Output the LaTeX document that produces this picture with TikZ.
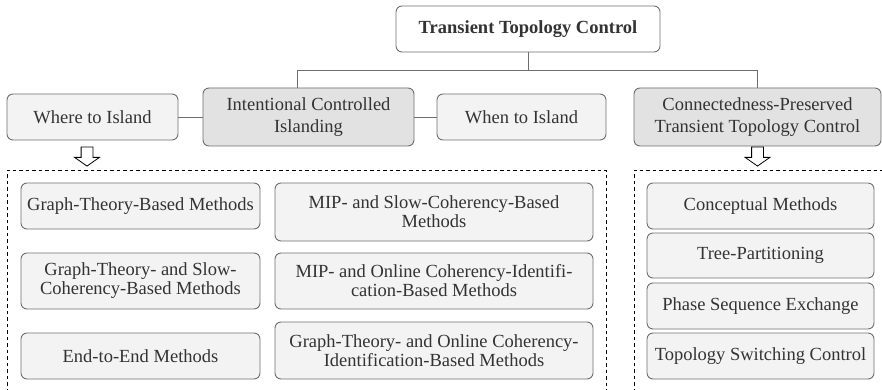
\documentclass[tikz,border=0pt]{standalone}
\usepackage{fontspec}
\setmainfont{Liberation Serif}
\usepackage{tikz}
\usetikzlibrary{positioning}
\usetikzlibrary{shapes.arrows}
\usetikzlibrary{calc}

\definecolor{edgegray}{HTML}{6E6E6E}
\definecolor{textgray}{HTML}{333333}
\definecolor{lightfill}{HTML}{F3F3F3}
\definecolor{darkfill}{HTML}{E2E2E2}

\begin{document}
\begin{tikzpicture}[x=1pt, y=-1pt,
	every node/.style = {font=\fontsize{18.5}{19}\selectfont, text=textgray, align=center},
	box/.style = {draw=edgegray, line width=0.9pt, rounded corners=6pt, fill=lightfill, inner sep=0pt},
	catbox/.style = {box, fill=darkfill, font=\fontsize{18.5}{22}\selectfont},
	link/.style = {draw=edgegray, line width=0.9pt},
	region/.style = {draw=black, line width=0.8pt, dash pattern=on 3.5pt off 3pt},
	downarrow/.style = {draw=black, line width=0.8pt, fill=white, shape=single arrow, rotate=-90,
		minimum height=19pt, inner sep=5.5pt, single arrow head extend=6.5pt,
		single arrow tip angle=110}]
\useasboundingbox (0,0) rectangle (882,390);

% top level
\node[box, fill=white, minimum width=264pt, minimum height=46pt, font=\bfseries\fontsize{18.5}{19}\selectfont]
	(root) at (528,29) {Transient Topology Control};

\node[catbox, minimum width=211pt, minimum height=58pt] (ici) at (308.5,117) {Intentional Controlled\\Islanding};
\node[box, minimum width=171pt, minimum height=46pt] (where) at (92.5,117) {Where to Island};
\node[box, minimum width=169pt, minimum height=46pt] (when) at (521.5,117) {When to Island};
\node[catbox, minimum width=247pt, minimum height=58pt] (cptc) at (757.5,117) {Connectedness-Preserved\\Transient Topology Control};

\coordinate (busL) at (297,70);
\coordinate (busR) at (757,70);
\draw[link] (root.south) -- (root.south |- busL);
\draw[link] (ici.north -| busL) -- (busL) -- (busR) -- (cptc.north -| busR);
\draw[link] (where) -- (ici);
\draw[link] (ici) -- (when);

% hollow arrows
\node[downarrow] (arrL) at (87,154.5) {};
\node[downarrow] (arrR) at (757.5,154.5) {};

% dashed regions (open at the bottom)
\draw[region] (7,392) -- (7,170) -- (606,170) -- (606,392);
\draw[region] (634,392) -- (634,170) -- (884,170);

% islanding methods
\node[box, minimum width=239pt, minimum height=46pt] (gt) at (140.5,206) {Graph-Theory-Based Methods};
\node[box, minimum width=239pt, minimum height=56pt] (gtsc) at (140.5,281) {Graph-Theory- and Slow-\\Coherency-Based Methods};
\node[box, minimum width=239pt, minimum height=46pt] (ete) at (140.5,356) {End-to-End Methods};

\node[box, minimum width=318pt, minimum height=58pt] (mipsc) at (434,212) {MIP- and Slow-Coherency-Based\\Methods};
\node[box, minimum width=318pt, minimum height=56pt] (mipoc) at (434,281) {MIP- and Online Coherency-Identifi-\\cation-Based Methods};
\node[box, minimum width=318pt, minimum height=57pt] (gtoc) at (434,350.5) {Graph-Theory- and Online Coherency-\\Identification-Based Methods};

% connectedness-preserving methods
\node[box, minimum width=227pt, minimum height=46pt] (concept) at (760.5,206) {Conceptual Methods};
\node[box, minimum width=227pt, minimum height=45pt] (tree) at (760.5,255.5) {Tree-Partitioning};
\node[box, minimum width=227pt, minimum height=46pt] (phase) at (760.5,306) {Phase Sequence Exchange};
\node[box, minimum width=227pt, minimum height=46pt] (switch) at (760.5,356) {Topology Switching Control};
\end{tikzpicture}
\end{document}
